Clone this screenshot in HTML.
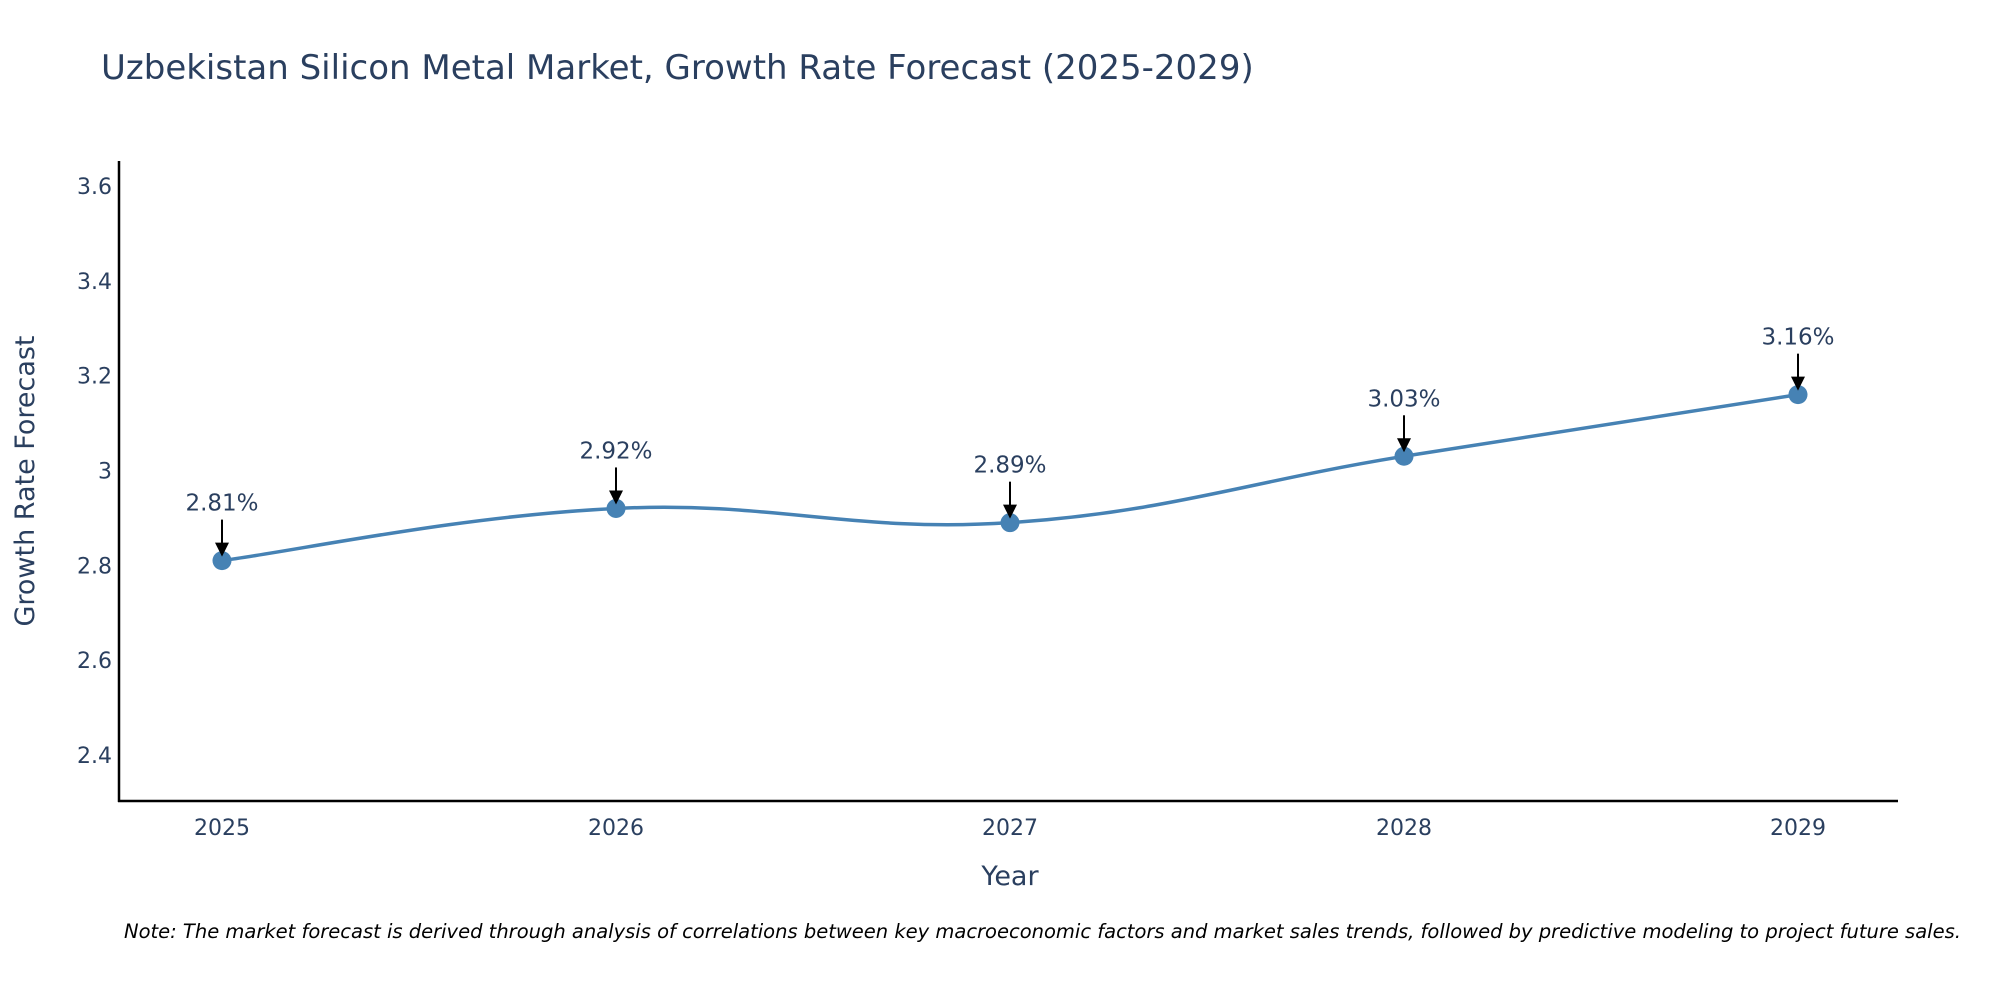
<!DOCTYPE html>
<html><head><meta charset="utf-8"><style>
body{margin:0;background:#fff;}
svg{display:block;font-family:"DejaVu Sans","Liberation Sans",sans-serif;}
</style></head><body>
<svg id="chart" width="2000" height="1000" viewBox="0 0 2000 1000">
<text x="101" y="79" font-size="34" fill="#2a3f5f">Uzbekistan Silicon Metal Market, Growth Rate Forecast (2025-2029)</text>
<g id="yticks"></g>
<g id="xticks"></g>
<line x1="119" y1="161" x2="119" y2="802" stroke="#000" stroke-width="2.5"/>
<line x1="118" y1="801" x2="1898" y2="801" stroke="#000" stroke-width="2.5"/>
<text x="1010" y="885" font-size="27" fill="#2a3f5f" text-anchor="middle">Year</text>
<text transform="translate(34,481) rotate(-90)" font-size="27" fill="#2a3f5f" text-anchor="middle">Growth Rate Forecast</text>
<path id="line" fill="none" stroke="#4682b4" stroke-width="3.5"/>
<g id="marks"></g>
<text x="124" y="938" font-size="19.5" font-style="italic" fill="#000">Note: The market forecast is derived through analysis of correlations between key macroeconomic factors and market sales trends, followed by predictive modeling to project future sales.</text>
</svg>
<script>
const years=[2025,2026,2027,2028,2029];
const values=[2.81,2.92,2.89,3.03,3.16];
const labels=["2.81%","2.92%","2.89%","3.03%","3.16%"];
const yTicks=[2.4,2.6,2.8,3,3.2,3.4,3.6];
const yTickLabels=["2.4","2.6","2.8","3","3.2","3.4","3.6"];
const NS="http://www.w3.org/2000/svg";
function xs(v){return 222+(v-2025)*394;}
function ys(v){return 755-(v-2.4)/0.2*94.83;}
function mk(t,a,p){const e=document.createElementNS(NS,t);for(const k in a)e.setAttribute(k,a[k]);p.appendChild(e);return e;}
const yt=document.getElementById('yticks');
yTicks.forEach((v,i)=>{const t=mk('text',{x:112,y:ys(v)+8,'font-size':22,fill:'#2a3f5f','text-anchor':'end'},yt);


t.textContent=yTickLabels[i];});
const xt=document.getElementById('xticks');
years.forEach(y=>{const t=mk('text',{x:xs(y),y:835,'font-size':22,fill:'#2a3f5f','text-anchor':'middle'},xt);


t.textContent=String(y);});
const pts=years.map((y,i)=>[xs(y),ys(values[i])]);
let d='M'+pts[0][0]+','+pts[0][1];
const s=0.2;
for(let i=0;i<pts.length-1;i++){const p0=pts[Math.max(0,i-1)],p1=pts[i],p2=pts[i+1],p3=pts[Math.min(pts.length-1,i+2)];
const c1=[p1[0]+(p2[0]-p0[0])*s,p1[1]+(p2[1]-p0[1])*s],c2=[p2[0]-(p3[0]-p1[0])*s,p2[1]-(p3[1]-p1[1])*s];
d+=' C'+c1+' '+c2+' '+p2;}
document.getElementById('line').setAttribute('d',d);
const g=document.getElementById('marks');
pts.forEach((p,i)=>{
const c=mk('circle',{cx:p[0],cy:p[1],r:9.5,fill:'#4682b4'},g);


const l=mk('line',{x1:p[0],y1:p[1]-41,x2:p[0],y2:p[1]-16,stroke:'#000','stroke-width':2},g);


const h=mk('polygon',{points:(p[0]-7)+','+(p[1]-18)+' '+(p[0]+7)+','+(p[1]-18)+' '+p[0]+','+(p[1]-4),fill:'#000'},g);


const t=mk('text',{x:p[0],y:p[1]-50,'font-size':23,fill:'#2a3f5f','text-anchor':'middle'},g);


t.textContent=labels[i];});
</script>
</body></html>
